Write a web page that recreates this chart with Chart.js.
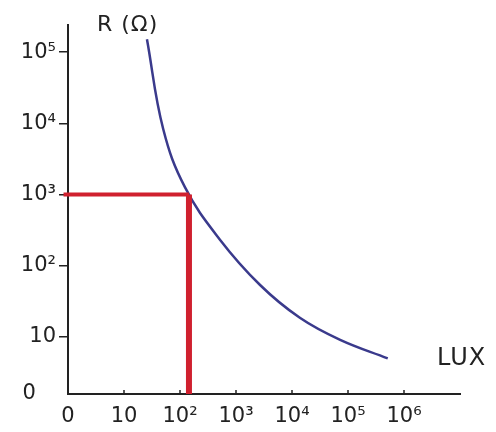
<!DOCTYPE html>
<html lang="en">
<head>
  <meta charset="UTF-8">
  <title>LDR - R vs LUX</title>
  <script src="https://cdn.jsdelivr.net/npm/chart.js"></script>
  <style>
    body { margin: 0; background: #fff; }
  </style>
</head>
<body>
  <canvas id="ldr" width="496" height="432"></canvas>

  <script>
    // values are in decades (log10), both axes
    const luxExp = [1.41, 1.70, 2.09, 2.71, 3.43, 4.14, 4.86, 5.71];
    const ohmExp = [5.18, 3.92, 3.10, 2.37, 1.73, 1.27, 0.96, 0.70];

    // reading shown in red: ~10^2 lux -> ~10^3 ohm
    const readLux = 2.16;
    const readOhm = 3.0;

    const xTickValues = [0, 1, 2, 3, 4, 5, 6];
    const xTickLabels = ["0", "10", "10²", "10³", "10⁴", "10⁵", "10⁶"];
    const yTickValues = [0.2, 1, 2, 3, 4, 5];
    const yTickLabels = ["0   ", "10", "10²", "10³", "10⁴", "10⁵"];

    const textColor = "#222";
    const tickFont = { family: "DejaVu Sans", size: 21 };

    // small upward tick marks on the x axis + axis names
    const extras = {
      id: "extras",
      afterDraw(chart) {
        const ctx = chart.ctx;
        const xs = chart.scales.x;
        const bottom = chart.chartArea.bottom;
        ctx.save();
        ctx.strokeStyle = textColor;
        ctx.lineWidth = 1.5;
        xTickValues.slice(1).forEach(v => {
          const px = xs.getPixelForValue(v);
          ctx.beginPath();
          ctx.moveTo(px, bottom);
          ctx.lineTo(px, bottom - 4);
          ctx.stroke();
        });
        ctx.fillStyle = textColor;
        ctx.font = "22px 'DejaVu Sans'";
        ctx.textBaseline = "alphabetic";
        ctx.letterSpacing = "1px";
        ctx.fillText("R (Ω)", 97, 31);
        ctx.font = "24px 'DejaVu Sans'";
        ctx.fillText("LUX", 437, 365);
        ctx.restore();
      }
    };

    new Chart(document.getElementById("ldr"), {
      type: "line",
      data: {
        datasets: [
          {
            data: [{ x: readLux, y: readOhm }, { x: readLux, y: yTickValues[0] }],
            borderColor: "#d0202e",
            borderWidth: 6,
            pointRadius: 0,
            clip: false
          },
          {
            data: [{ x: -0.08, y: readOhm }, { x: readLux, y: readOhm }],
            borderColor: "#d0202e",
            borderWidth: 4,
            pointRadius: 0,
            clip: false
          },
          {
            data: luxExp.map((v, i) => ({ x: v, y: ohmExp[i] })),
            borderColor: "#3a3a8c",
            borderWidth: 2.5,
            pointRadius: 0,
            tension: 0.4,
            clip: false
          }
        ]
      },
      options: {
        responsive: false,
        animation: false,
        layout: { padding: { top: 25, right: 36, left: 0, bottom: 0 } },
        plugins: {
          legend: { display: false },
          tooltip: { enabled: false }
        },
        scales: {
          x: {
            type: "linear",
            min: 0,
            max: 7,
            afterBuildTicks: s => { s.ticks = xTickValues.map(v => ({ value: v })); },
            afterFit: s => { s.height = 38; },
            grid: { display: false, drawTicks: false },
            border: { display: true, color: textColor, width: 2 },
            ticks: {
              color: textColor,
              font: tickFont,
              padding: 10,
              maxRotation: 0,
              autoSkip: false,
              callback: (v, i) => xTickLabels[i]
            }
          },
          y: {
            type: "linear",
            min: 0.2,
            max: 5.38,
            afterBuildTicks: s => { s.ticks = yTickValues.map(v => ({ value: v })); },
            afterFit: s => { s.width = 68; },
            grid: {
              display: true,
              drawOnChartArea: false,
              drawTicks: true,
              tickLength: 9,
              lineWidth: 1.5,
              tickColor: c => (c.index === 0 ? "rgba(0,0,0,0)" : textColor)
            },
            border: { display: true, color: textColor, width: 2 },
            ticks: {
              color: textColor,
              font: tickFont,
              padding: 3,
              autoSkip: false,
              callback: (v, i) => yTickLabels[i]
            }
          }
        }
      },
      plugins: [extras]
    });
  </script>
</body>
</html>
